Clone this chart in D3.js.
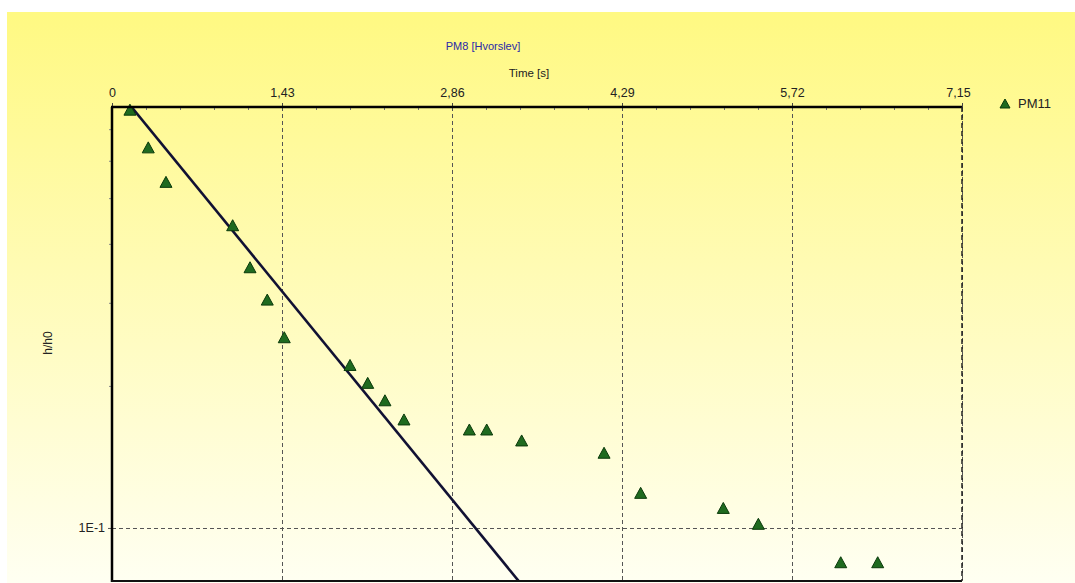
<!DOCTYPE html>
<html>
<head>
<meta charset="utf-8">
<script src="https://cdn.jsdelivr.net/npm/d3@7"></script>
<style>
  html, body { margin: 0; padding: 0; background: #ffffff; }
  svg { display: block; }
  text { font-family: "Liberation Sans", Arial, sans-serif; }
</style>
</head>
<body>
<svg id="chart" width="1075" height="583"></svg>
<script>
// Time [s] of each PM11 reading
const times = [0.151, 0.305, 0.454, 1.015, 1.161, 1.306, 1.449, 2.002, 2.151, 2.296,
               2.456, 3.006, 3.152, 3.446, 4.139, 4.447, 5.142, 5.437, 6.130, 6.441];
// normalised head h/h0 of each reading
const headRatio = [0.768, 0.639, 0.540, 0.437, 0.356, 0.304, 0.253, 0.221, 0.2025, 0.186,
                   0.1694, 0.1613, 0.1613, 0.1529, 0.144, 0.1184, 0.110, 0.1018, 0.0844, 0.0844];
// Hvorslev straight-line fit, end points (time, h/h0)
const fitTimes = [0.15, 3.45];
const fitRatio = [0.788, 0.0756];

const xTickValues = [0, 1.43, 2.86, 4.29, 5.72, 7.15];
const xTickLabels = ["0", "1,43", "2,86", "4,29", "5,72", "7,15"];
const xMinorValues = [0.286, 0.572, 0.858, 1.144, 1.716, 2.002, 2.288, 2.574,
                      3.146, 3.432, 3.718, 4.004, 4.576, 4.862, 5.148, 5.434,
                      6.006, 6.292, 6.578, 6.864];
const yTickValues = [0.1];
const yTickLabels = ["1E-1"];
const yMinorValues = [0.2, 0.3, 0.4, 0.5, 0.6, 0.7];

const chartTitle = "PM8 [Hvorslev]";
const xTitle = "Time [s]";
const yTitle = "h/h0";
const seriesName = "PM11";

const svg = d3.select("#chart");
const W = 1075, H = 583;
const plot = { left: 112, top: 107, right: 962, bottom: 581 };

// panel background gradient
const defs = svg.append("defs");
const grad = defs.append("linearGradient")
  .attr("id", "bg").attr("x1", 0).attr("y1", 0).attr("x2", 0).attr("y2", 1);
grad.append("stop").attr("offset", "0%").attr("stop-color", "#fff982");
grad.append("stop").attr("offset", "45%").attr("stop-color", "#fffbb4");
grad.append("stop").attr("offset", "100%").attr("stop-color", "#fffff2");

defs.append("clipPath").attr("id", "plotClip")
  .append("rect")
  .attr("x", plot.left).attr("y", plot.top)
  .attr("width", plot.right - plot.left).attr("height", plot.bottom - plot.top);

svg.append("rect")
  .attr("x", 7).attr("y", 12).attr("width", W - 7).attr("height", H - 12)
  .attr("fill", "url(#bg)");

const x = d3.scaleLinear().domain([0, 7.15]).range([plot.left, plot.right]);
const y = d3.scaleLog().domain([0.0772, 0.78]).range([plot.bottom, plot.top]);

// grid lines
const grid = svg.append("g").attr("stroke", "#555").attr("stroke-width", 1)
  .attr("stroke-dasharray", "4,3").attr("fill", "none");
grid.selectAll("line.vx").data(xTickValues.slice(1)).join("line")
  .attr("x1", d => Math.round(x(d)) + 0.5).attr("x2", d => Math.round(x(d)) + 0.5)
  .attr("y1", plot.top).attr("y2", plot.bottom);
grid.selectAll("line.hy").data(yTickValues).join("line")
  .attr("x1", plot.left).attr("x2", plot.right)
  .attr("y1", d => Math.round(y(d)) + 0.5).attr("y2", d => Math.round(y(d)) + 0.5);

// top axis: major ticks with labels
const xAxis = d3.axisTop(x).tickValues(xTickValues)
  .tickFormat((d, i) => xTickLabels[i]).tickSize(4).tickPadding(6);
const gx = svg.append("g").attr("transform", `translate(0,${plot.top})`).call(xAxis);
gx.select(".domain").remove();
gx.selectAll("line").attr("stroke", "#444");
gx.selectAll("text").attr("font-size", 12.5).attr("fill", "#222")
  .attr("font-family", "Liberation Sans, Arial, sans-serif");
gx.selectAll("text").filter(d => d === 7.15).attr("dx", -4);

// top axis: minor ticks
const xMinor = d3.axisTop(x).tickValues(xMinorValues).tickFormat("").tickSize(-3);
const gxm = svg.append("g").attr("transform", `translate(0,${plot.top})`).call(xMinor);
gxm.select(".domain").remove();
gxm.selectAll("line").attr("stroke", "#777");

// left axis
const yAxis = d3.axisLeft(y).tickValues(yTickValues)
  .tickFormat((d, i) => yTickLabels[i]).tickSize(4).tickPadding(3);
const gy = svg.append("g").attr("transform", `translate(${plot.left},0)`).call(yAxis);
gy.select(".domain").remove();
gy.selectAll("line").attr("stroke", "#555");
gy.selectAll("text").attr("font-size", 12.5).attr("fill", "#222")
  .attr("font-family", "Liberation Sans, Arial, sans-serif");

const yMinor = d3.axisLeft(y).tickValues(yMinorValues).tickFormat("").tickSize(3);
const gym = svg.append("g").attr("transform", `translate(${plot.left},0)`).call(yMinor);
gym.select(".domain").remove();
gym.selectAll("line").attr("stroke", "#888");

// fitted line
const fitData = fitTimes.map((t, i) => [t, fitRatio[i]]);
svg.append("path")
  .attr("clip-path", "url(#plotClip)")
  .attr("d", d3.line().x(d => x(d[0])).y(d => y(d[1]))(fitData))
  .attr("fill", "none").attr("stroke", "#111133").attr("stroke-width", 2.6);

// data markers
const tri = "M0,-6 L6,5 L-6,5 Z";
svg.append("g").selectAll("path").data(times.map((t, i) => [t, headRatio[i]])).join("path")
  .attr("transform", d => `translate(${x(d[0])},${y(d[1])})`)
  .attr("d", tri)
  .attr("fill", "#1f6a1f").attr("stroke", "#0b3a0b").attr("stroke-width", 1);

// frame: solid top, left and bottom; dashed right edge
const frame = svg.append("g").attr("fill", "none");
frame.append("line").attr("x1", plot.left - 1).attr("x2", plot.right)
  .attr("y1", plot.top).attr("y2", plot.top).attr("stroke", "#000").attr("stroke-width", 2.5);
frame.append("line").attr("x1", plot.left).attr("x2", plot.left)
  .attr("y1", plot.top).attr("y2", plot.bottom + 1).attr("stroke", "#000").attr("stroke-width", 2.5);
frame.append("line").attr("x1", plot.left - 1).attr("x2", plot.right)
  .attr("y1", plot.bottom).attr("y2", plot.bottom).attr("stroke", "#111").attr("stroke-width", 2);
frame.append("line").attr("x1", x(7.15)).attr("x2", x(7.15))
  .attr("y1", plot.top).attr("y2", plot.bottom).attr("stroke", "#222")
  .attr("stroke-width", 1.5).attr("stroke-dasharray", "5,3");

// titles
svg.append("text").attr("x", 483).attr("y", 50).attr("text-anchor", "middle")
  .attr("font-size", 11).attr("fill", "#2a2aa8").text(chartTitle);
svg.append("text").attr("x", 529).attr("y", 77).attr("text-anchor", "middle")
  .attr("font-size", 11.5).attr("fill", "#222").text(xTitle);
svg.append("text").attr("transform", `translate(52,343) rotate(-90)`)
  .attr("text-anchor", "middle").attr("font-size", 12).attr("fill", "#222").text(yTitle);

// legend
const legend = svg.append("g").attr("transform", "translate(1005,104)");
legend.append("path").attr("d", "M0,-5 L5,4 L-5,4 Z")
  .attr("fill", "#1f6a1f").attr("stroke", "#0b3a0b");
legend.append("text").attr("x", 13).attr("y", 4).attr("font-size", 13)
  .attr("fill", "#222").text(seriesName);
</script>
</body>
</html>
